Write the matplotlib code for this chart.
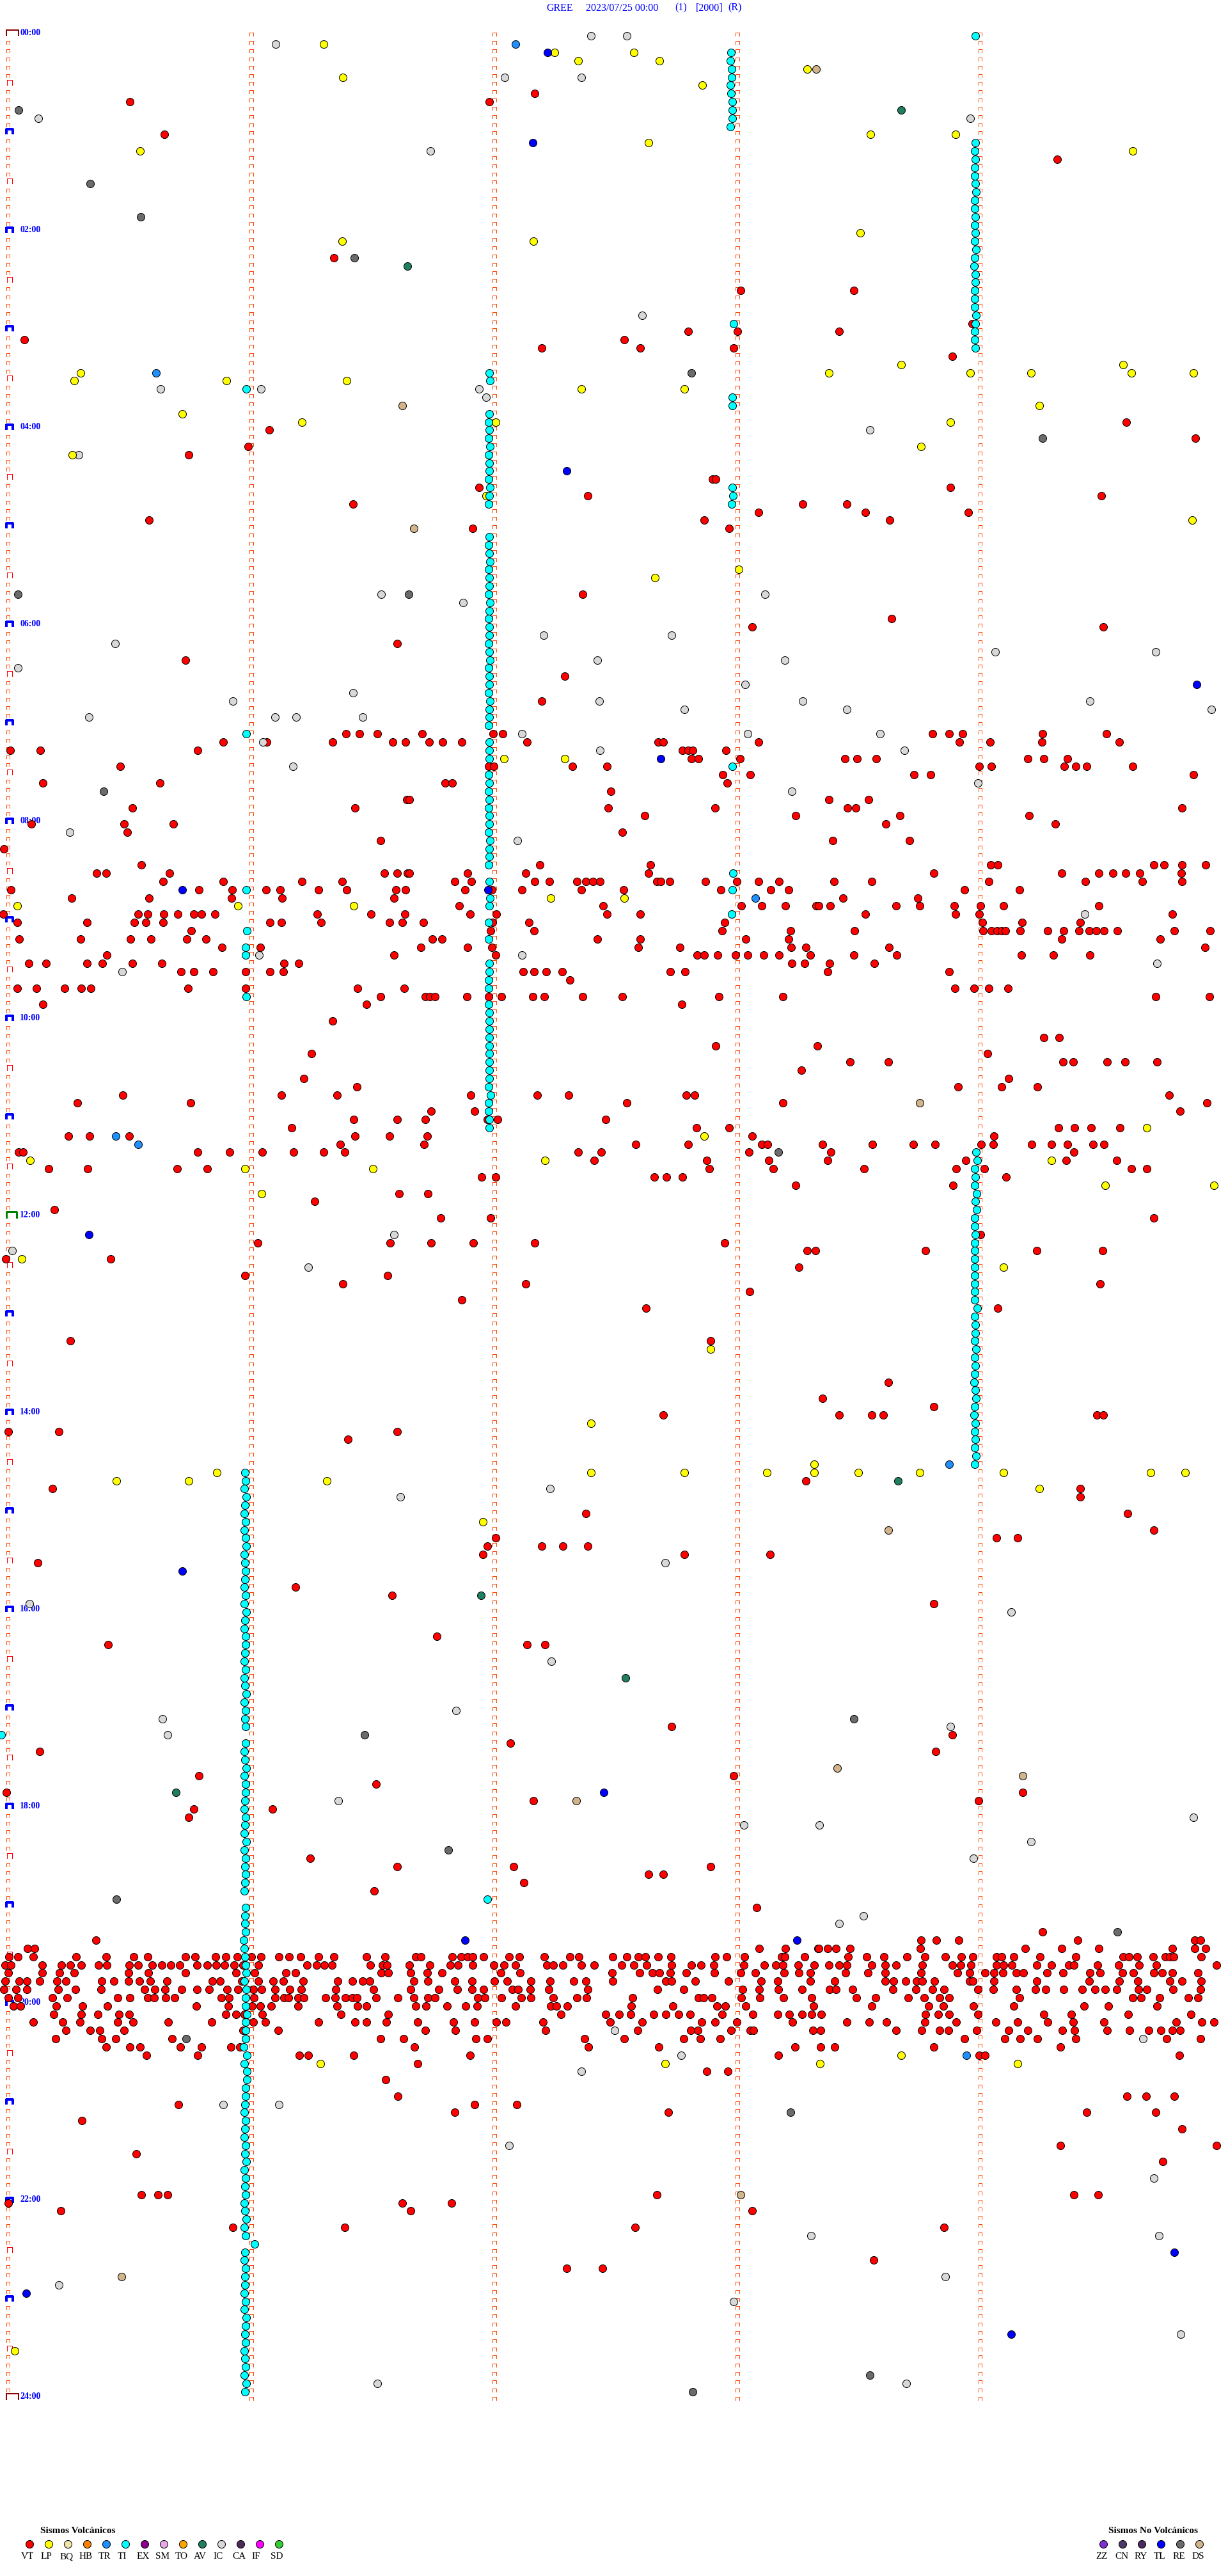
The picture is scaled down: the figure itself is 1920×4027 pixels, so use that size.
import matplotlib
matplotlib.use("Agg")
import matplotlib.pyplot as plt
from matplotlib.collections import LineCollection

plt.rcParams['font.family'] = ['Liberation Serif', 'DejaVu Serif']

# ---- data: (row of the 5-minute trace, sample offsets along the trace) ----
PANEL = 1568  # samples in a third of a 5-minute trace
TOTAL = 4704

vt_abs = [(7,[2049]),(8,[498,1875]),(12,[629]),(15,[4050]),(27,[1280]),(31,[3270,2836]),(35,[3723]),
(36,[2635,2824,3214]),(37,[2390,94]),(38,[2453,2075,2811]),(39,[3648]),(47,[4314]),(48,[1031]),(49,[4578]),
(50,[950]),(51,[723]),(54,[2729,2742]),(55,[1836,3641]),(56,[2251,4220]),(57,[1352,3075,3245]),
(58,[2905,3314,3710]),(59,[572,2698,3409]),(60,[1811,2792]),(68,[2233]),(71,[3415]),(72,[2880,4226]),
(74,[1522]),(76,[711]),(78,[2163]),(81,[2075]),
(120,[1275]),(122,[3998,4058]),(123,[2741,3131]),(124,[1194,3783]),(125,[3257,3404,4073,4112,4242,4310,4432]),
(126,[3069]),(127,[1164,3864]),(128,[1367,3670,3836,3975]),(129,[471,1078,1290,1802,2058,2178,2628,2660,4479]),
(130,[297,729,2402,2998,4623]),(131,[1652,1818,4521]),(132,[1355,1521,1629,1868,1905,2319]),
(133,[1118,2667,2793,4055,4116,4179,4289]),(134,[261,344,495,1360,1493,1637,2882,3807]),
(135,[1304,1625,2436,2636,2918,2940,3150,3342,3498,3581,3759,3804,3951,4028,4088,4187,4229]),
(136,[72,87,758,879,1004,1125,1239,1320,2216,2304,2870,3183,4113]),
(137,[2276,2708,2945,3171,3699,4083,4278]),(138,[185,336,678,794,2718,2963,3310,3662,3771,4334,4392]),
(139,[1845,1899,2507,2552,2613,3855]),(140,[3048,3651]),(141,[1529,1640]),(142,[1205]),(143,[209]),
(144,[1688,1878,4420]),(146,[3756]),(147,[987,1494,1652,1814,2049,2777]),(148,[3093,3123,3546,3971,4223]),
(149,[23,423]),(150,[3059]),(151,[939,1485]),(152,[1314,2015,4215]),(153,[2871]),(154,[1769]),(155,[2475,3821]),
(159,[270,2723]),(164,[3402]),(166,[3151]),(167,[3578]),(168,[3214,3339,3383,2541,4201,4226]),
(170,[31,226,1522]),(171,[1333]),(176,[3088]),(177,[201,4138]),(178,[4138]),(180,[2245,4320]),(182,[4421]),
(183,[1899,3899,3817]),(184,[1868,2075,2157,2251]),(185,[1849,2950,2622]),(186,[145]),(189,[1132]),(190,[1503]),
(191,[3578]),(195,[1673]),(196,[2019,2088,415]),(206,[2572]),(207,[3648]),(208,[1956]),(209,[151,3585]),
(212,[2811,761]),(213,[1440]),(214,[25,3918]),(215,[2044,3748]),(216,[742,1044]),(217,[723]),(222,[1189]),
(223,[1522,1968,2723]),(224,[2541,2484]),(225,[2006]),(226,[1434]),(228,[2899]),
(252,[1817,1979]),(253,[1743,2561,4162,4428]),(254,[314]),(255,[4528]),(257,[4063,4660]),(258,[522]),(259,[4453]),
(263,[541,604,641,2516,4113,4207]),(264,[1541,1730,31]),(265,[233,1572,2880]),(267,[893,1321,2434,3616]),
(271,[3346]),(272,[2170,2308])]

# morning swarm, three panels of the trace
vt_morning_a = [(85,[1325,1378,1446]),(86,[854,1022,1273,1505,1553]),(87,[40,154,757]),(89,[460]),(91,[165,612]),
(93,[1558]),(94,[506,1359]),(96,[119,476,664]),(97,[487]),(98,[1457]),(99,[14]),(101,[542]),
(102,[370,407,649,1473,1522,1560]),(103,[624,856,1157,1311]),(104,[41,763,890,1018,1074,1220,1327,1516,1553]),
(105,[275,570,888,1081,1510]),(107,[12,529,566,627,682,743,772,824,1216,1422,1552]),
(108,[67,332,515,559,625,1034,1077,1231,1493,1540]),(109,[733]),(110,[74,309,501,577,715,790]),(111,[849,998]),
(112,[410,1510]),(113,[111,176,334,393,506,619,1088,1144]),(114,[694,742,817,940,1035,1086]),
(116,[67,139,248,312,349,721,941,1369,1549]),(117,[1458]),(118,[164,1403])]
vt_morning_b = [(85,[50,320,357]),(86,[76,127,202,450,953,973,1337]),(87,[1045,1068,1085,1213]),(88,[1080,1108,1266]),
(89,[304,324,624,756]),(90,[1201,1305]),(91,[138,164,1217]),(92,[771]),(93,[0]),(94,[762,1172]),(95,[901,1481]),
(97,[815]),(101,[500,923]),(102,[0,223,446,916]),(103,[173,238,481,536,643,677,704,730,947,964,998,1135,1254,1338,1415]),
(104,[212,315,431,660,820,1193,1385,1452]),(106,[192,742,1271,1350,1441,1558]),(107,[232,333,758,885]),
(108,[53,318,459,1209]),(109,[312,478,1199,1459]),(110,[89,124,721,885,1288,1453]),(111,[45,223,315,876,1036,1462,1519]),
(112,[330,1103,1130,1180,1250,1296,1358,1416,1537]),(113,[1465,1513]),(114,[436,478,524,585,999,1056]),(115,[616]),
(117,[62,78,98,220,303,354,474,517,663,817,1187,1432]),(118,[1044])]
vt_morning_c = [(85,[436,500,552,857,1103]),(86,[538,657,854,1151]),(88,[100,148,220,800,862,954]),(89,[614,661,941,986,1027,1203]),
(90,[365,428,1436]),(93,[40,190]),(94,[110,142,1392]),(95,[311,806]),(96,[257,907]),(98,[53,349]),
(101,[658,687,1284,1323,1392,1483]),(102,[441,932,1072,1128,1177,1229,1389]),(103,[60,204,652,1022,1239,1391]),(104,[558,770]),
(105,[93,380]),(106,[0,44,297,387,520,620,708,1074]),(107,[178,525,614,1354]),(108,[628,779,1003]),
(109,[137,629,661,684,700,716,771,878,938,998,1036,1063,1093,1143,1363,1499]),(110,[931,1308]),(111,[270,1480]),
(112,[135,300,777,900,1038]),(113,[42,212]),(114,[35,500]),(116,[521,595,652,724]),(117,[1290,1497])]

# evening swarm, three panels of the trace
vt_evening_a = [(232,[368]),(233,[105,133]),
(234,[34,69,127,291,407,513,565,710,748,826,865,908,964,1000,1068,1108,1152,1220,1280,1405,1475]),
(235,[20,42,162,236,270,312,378,410,496,530,582,621,655,688,755,793,829,859,896,930,991,1176,1213,1241,1272,1419,1465,1483]),
(236,[32,162,227,283,492,568,711,905,975,1096,1132,1460,1488]),
(237,[20,73,104,152,217,253,390,436,492,535,576,640,813,844,925,991,1047,1085,1162,1294,1351,1388,1415]),
(238,[15,62,104,223,288,387,554,594,632,695,754,800,870,912,970,1003,1053,1110,1155,1287,1431]),
(239,[31,68,202,257,451,497,566,590,635,670,847,878,973,1053,1088,1106,1142,1163,1246,1285,1322,1350,1366,1440,1524]),
(240,[52,78,215,315,412,751,875,965,996,1040,1141,1292,1370,1404]),
(241,[206,312,376,455,495,864,903,935,1005,1307,1487]),
(242,[128,239,306,451,509,644,812,971,1017,1219,1360,1405,1480]),
(243,[252,346,381,475,930,1066]),(244,[212,390,444,658,1457,1546]),(245,[407,498,536,690,771,885,918]),
(246,[560,758,1146,1180,1355]),(249,[1478]),(251,[1524]),(252,[683])]
vt_evening_b = [(233,[1341,1441,1565]),
(234,[25,43,163,198,222,243,284,382,421,516,615,650,779,834,877,903,953,1001,1172,1216,1285,1425,1438,1514]),
(235,[0,78,156,186,243,324,363,407,527,551,589,660,708,813,859,910,1005,1081,1118,1167,1282,1360,1403,1431,1490,1550]),
(236,[5,69,124,350,425,777,882,932,958,999,1061,1169,1270,1325,1435,1492,1535]),
(237,[17,71,175,239,326,374,466,540,630,675,780,983,1004,1094,1222,1348,1412,1537]),
(238,[5,112,184,240,285,394,417,462,535,683,951,1051,1277,1340,1414,1504]),
(239,[16,70,99,262,290,354,429,466,551,641,679,855,1108,1128,1160,1271,1343,1433,1541]),
(240,[24,64,145,216,260,407,541,563,604,850,1010,1179,1211,1288,1549]),
(241,[581,753,804,847,937,982,1031,1076,1199,1315,1411,1456,1504,1541]),
(242,[31,169,249,332,371,511,770,893,1120,1172,1255,1467]),
(243,[62,177,522,875,1078,1106,1233,1305,1317,1546]),
(244,[255,300,672,822,1052,1115,1191]),(245,[20,686,955,1477]),(246,[232,1413]),(247,[33]),(248,[1140,1220])]
vt_evening_c = [(231,[857]),(232,[393,451,536,992,1441,1462]),(233,[0,35,65,120,390,792,932,1073,1354,1440,1482]),
(234,[112,184,251,338,407,484,547,590,680,700,748,848,985,1165,1189,1219,1282,1327,1346,1359,1465]),
(235,[38,79,107,204,255,296,397,513,545,582,680,707,741,836,893,958,978,1067,1148,1227,1293,1523]),
(236,[102,189,255,392,531,577,638,671,706,757,783,874,936,1038,1077,1163,1206,1285,1316,1355,1453]),
(237,[62,255,287,334,374,398,443,578,590,672,836,1036,1152,1223,1346,1391,1464]),
(238,[42,67,131,285,373,437,480,609,669,757,831,870,938,1009,1058,1098,1141,1226,1258,1358,1462]),
(239,[145,219,344,405,463,500,770,1204,1236,1307,1417,1454]),
(240,[204,422,477,594,747,1016,1109,1295]),(241,[10,408,457,499,611,863,967,1185,1425]),
(242,[109,193,260,406,527,679,762,878,976,1092,1370,1468,1513]),
(243,[8,297,394,464,498,604,728,800,934,980,1104,1191,1264,1310,1354,1384]),
(244,[559,712,772,837,985,1334,1462]),(245,[8,61,441,926]),(246,[615,638,1383]),(251,[1180,1255,1362])]

ic_rows = [(0,[2263,2402]),(1,[1056]),(5,[1934,2226]),(10,[146,3717]),(14,[1648]),(34,[2459]),(43,[616,1000,1836]),(44,[1862]),
(48,[3333]),(51,[302]),(68,[1459,2931]),(69,[1773]),(73,[2082,2572]),(74,[440]),(75,[3811,4427]),(76,[2289,3006]),(77,[69]),
(79,[2855]),(80,[1352]),(81,[893,3075,4176,2296]),(82,[4641,2622,3245]),(83,[340,1053,1135,1390]),(85,[1999,2865,3370]),
(86,[1008]),(87,[2298,3464]),(89,[1121]),(91,[3747]),(92,[3033]),(97,[267]),(98,[1982]),(107,[4156]),(112,[992,2000]),
(113,[4432]),(114,[469]),(146,[1508]),(148,[47]),(150,[1181]),(177,[2107]),(178,[1534]),(186,[2547]),(191,[113]),(192,[3874]),
(198,[2113]),(204,[1748]),(205,[623]),(206,[3641]),(207,[641]),(215,[1296]),(217,[4572]),(218,[2849,3138]),(220,[3949]),
(222,[3729]),(229,[3308]),(230,[3214]),(243,[2355]),(244,[4377]),(246,[2610]),(248,[2227]),(252,[855,1069]),(257,[1950]),
(261,[4421]),(268,[3107,4440]),(273,[3622]),(274,[226]),(276,[2811]),(280,[4522]),(286,[3472,1446])]

lp_rows = [(1,[1240]),(2,[2123,2427]),(3,[2214,2527]),(4,[3091]),(5,[1313]),(6,[2689]),(12,[3335,3660]),(13,[2485]),(14,[537,4339]),
(24,[3295]),(25,[1310,2044]),(40,[3453,4302]),(41,[308,3176,3717,3949,4333,4572]),(42,[283,868,1327]),(43,[2226,2622]),(45,[3981]),
(46,[698]),(47,[1157,1899,3641]),(50,[3528]),(51,[277]),(56,[1862]),(59,[4566]),(65,[2830]),(66,[2509]),(88,[1930,2163]),
(105,[2110,2390]),(106,[67,912,1356]),(133,[4392]),(134,[2697]),(137,[114,2088,4028]),(138,[939,1428]),(140,[4233,4649]),(141,[1002]),
(149,[83]),(150,[3843]),(160,[2723]),(169,[2264]),(174,[3119]),(175,[830,2264,2622,2937,3119,3289,3522,3843,4408,4541]),
(176,[447,723,1251]),(177,[3981]),(181,[1849]),(246,[3452]),(247,[1228,2549,3141,3897]),(282,[57])]

tr_rows = [(1,[1975]),(41,[597]),(105,[2893]),(134,[443]),(135,[530]),(174,[3635]),(246,[3703])]
tl_rows = [(2,[2097]),(13,[2041]),(53,[2170]),(79,[4585]),(88,[2531]),(104,[699,1869]),(146,[341]),(187,[698]),(214,[2314]),
(232,[1782,3052]),(270,[4497]),(275,[101]),(280,[3874])]
re_rows = [(9,[72]),(18,[345]),(22,[539]),(27,[1358]),(41,[2648]),(49,[3993]),(68,[69,1566]),(92,[398]),(136,[2982]),(205,[3270]),
(207,[1396]),(221,[1717]),(227,[447]),(231,[4279]),(244,[714]),(253,[3029]),(285,[3333]),(287,[2654])]
av_rows = [(9,[3453]),(28,[1560]),(176,[3440]),(190,[1843]),(200,[2396]),(214,[673])]
ds_rows = [(4,[3125]),(45,[1541]),(60,[1585]),(130,[3524]),(182,[3402]),(211,[3207]),(212,[3918]),(215,[2207]),(263,[2836]),(273,[465])]

ti_single = [(0,[3736]),(35,[2811]),(43,[943]),(44,[2805]),(45,[2805]),(55,[2805]),(56,[2808]),(57,[2803]),(85,[943]),(89,[2806]),
(102,[2808]),(104,[944,2805]),(107,[2802]),(109,[945]),(111,[942]),(112,[940]),(117,[943]),(207,[6]),(227,[1868])]
ti_a_rows = [2,3,4,5,6,7,8,9,10,11]
ti_a_off = [2801,2799,2804,2802,2797,2801,2806,2805,2806,2798]
ti_b_rows = list(range(13,39))
ti_b_off = [3736,3734,3737,3735,3733,3736,3738,3734,3735,3737,3733,3736,3734,3738,3735,3732,3736,3737,3734,3735,3733,3738,3736,3734,3735,3737]
ti_c_rows = [41,42,46,47,48,49,50,51,52,53,54,55,56,57,61,62,63,64,65,66,67,68,69,70,71,72,73,74,75,76,77,78,79,80,81,82,
83,84,86,87,88,90,91,92,93,94,95,96,97,98,99,100,101,103,105,106,108,110,113,114,115,116,118,
119,120,121,122,123,124,125,126,127,128,129,130,131,132,133]
ti_c_off = [1874,1876,1874,1871,1875,1873,1876,1872,1874,1875,1873,1876,1874,1872,1875,1873,1874,1876,1872,1875,1874,1873,1876,1874,1872,1875,1874,1873,1875,1876,1872,1874,1875,1873,1876,1874,
1875,1873,1875,1874,1875,1871,1875,1873,1874,1872,1874,1875,1873,1877,1875,1875,1873,1874,1876,1875,1872,1871,1875,1875,1873,1873,1872,
1874,1875,1875,1875,1875,1875,1875,1875,1875,1872,1878,1871,1871,1874,1875]
ti_d_rows = list(range(136,175))
ti_d_off = [3738,3744,3735,3737,3734,3740,3737,3740,3735,3734,3737,3734,3735,3734,3734,3735,3734,3735,3735,3743,3734,3737,
3736,3733,3738,3734,3737,3735,3732,3736,3739,3734,3731,3737,3733,3736,3734,3738,3735]
ti_e_rows = list(range(175,207)) + list(range(208,227)) + list(range(228,288))
ti_e_off = [938,941,936,943,939,935,942,937,940,944,936,939,942,938,935,941,937,943,939,936,940,942,938,935,941,937,939,943,936,940,938,942,
941,937,939,944,936,940,942,938,935,941,939,937,943,936,940,938,942,939,936,
941,938,938,940,934,935,938,941,944,936,944,941,941,945,941,941,940,934,945,937,946,946,942,941,939,
937,942,938,935,941,939,944,936,940,938,942,937,939,943,936,940,975,938,935,942,939,939,937,941,936,943,940,938,942,935,939,941,937,943,938,940,936]

cat_volc = ["VT","LP","BQ","HB","TR","TI","EX","SM","TO","AV","IC","CA","IF","SD"]
col_volc = ["#FF0000","#FFFF00","#F0E4A8","#FF8000","#1E90FF","#00FFFF","#8B008B","#E8A8E8","#FFA500","#1F7F60","#D8D8D8","#4B2B5B","#FF00FF","#32CD32"]
cat_novolc = ["ZZ","CN","RY","TL","RE","DS"]
col_novolc = ["#8030D0","#4B3B6B","#4B2B5B","#0000FF","#6B6B6B","#D2B48C"]

n_rows = 288
hour_labels = ["%02d:00" % h for h in range(0, 25, 2)]
minute_columns = [31, 963, 1894, 2825, 3755]
title_parts = ["GREE", "2023/07/25 00:00", "(1)", "[2000]", "(R)"]
title_left = [854, 916, 1055, 1088, 1138]

# ---- figure ----
W, H = 1920, 4027
PX_PER_ROW = 12.83
ROW0_PX = 56.5
SAMPLES_PER_PX = TOTAL / W

fig = plt.figure(figsize=(W / 100, H / 100), dpi=100, facecolor="white")
ax = fig.add_axes([0, 0, 1, 1])
ax.set_xlim(0, TOTAL)
ax.set_ylim((H - ROW0_PX) / PX_PER_ROW, -ROW0_PX / PX_PER_ROW)
ax.axis("off")

def lx(px):
    return px * SAMPLES_PER_PX

def ly(py):
    return (py - ROW0_PX) / PX_PER_ROW

def flat(rows, shift=0):
    xs, ys = [], []
    for r, vals in rows:
        for v in vals:
            xs.append(v + shift)
            ys.append(r)
    return xs, ys

def dots(x, y, color, z):
    ax.scatter(x, y, s=75, c=color, edgecolors="black", linewidths=0.72, zorder=z, antialiased=False, clip_on=False)

# time ticks
def tick(cx_left, cx_right, r, hpx):
    top = r - hpx / PX_PER_ROW
    return [(cx_left, r), (cx_left, top), (cx_right, top), (cx_right, r)]

small = []
for r in range(n_rows + 1):
    for i, c in enumerate(minute_columns):
        if i == 0 and r % 6 == 0:
            continue
        small.append(tick(c - 6.5, c + 6.5, r, 5.0))
ax.add_collection(LineCollection(small, colors="#FF4500", linewidths=0.5, antialiased=False, zorder=1))
red_b, blue_b, green_b, dark_b = [], [], [], []
for r in range(0, n_rows + 1, 6):
    if r in (0, n_rows):
        dark_b.append(tick(24, 72, r, 9.5))
    elif r == 144:
        green_b.append(tick(24, 63, r, 10))
    elif r % 12 == 0:
        blue_b.append(tick(24, 50, r, 8))
    else:
        red_b.append(tick(26, 47, r, 8))
ax.add_collection(LineCollection(red_b, colors="#FF0000", linewidths=0.5, antialiased=False, zorder=1))
ax.add_collection(LineCollection(blue_b, colors="#0000FF", linewidths=1.45, antialiased=False, zorder=1))
ax.add_collection(LineCollection(green_b, colors="#008000", linewidths=1.0, antialiased=False, zorder=1))
ax.add_collection(LineCollection(dark_b, colors="#8B0000", linewidths=1.2, antialiased=False, zorder=1))

for i, lab in enumerate(hour_labels):
    ax.text(77, i * 24 - 0.37, lab, color="#0000FF", fontweight="bold", fontsize=10, ha="left", va="center", zorder=2)

# events
for rows, shift in [(vt_abs, 0), (vt_morning_a, 0), (vt_morning_b, PANEL), (vt_morning_c, 2 * PANEL),
                    (vt_evening_a, 0), (vt_evening_b, PANEL), (vt_evening_c, 2 * PANEL)]:
    x, y = flat(rows, shift)
    dots(x, y, col_volc[0], 3)
for rows, c, z in [(ic_rows, col_volc[10], 4), (lp_rows, col_volc[1], 4), (tr_rows, col_volc[4], 4),
                   (av_rows, col_volc[9], 4), (re_rows, col_novolc[4], 4), (ds_rows, col_novolc[5], 4)]:
    x, y = flat(rows)
    dots(x, y, c, z)
x, y = flat(ti_single)
dots(x, y, col_volc[5], 5)
for rr, oo in [(ti_a_rows, ti_a_off), (ti_b_rows, ti_b_off), (ti_c_rows, ti_c_off), (ti_d_rows, ti_d_off), (ti_e_rows, ti_e_off)]:
    n = min(len(rr), len(oo))
    dots(oo[:n], rr[:n], col_volc[5], 5)
x, y = flat(tl_rows)
dots(x, y, col_novolc[3], 6)

# title
for t, left in zip(title_parts, title_left):
    ax.text(lx(left), ly(12.7), t, color="#0000FF", fontsize=11.5, ha="left", va="center")

# legends
ax.text(lx(63.3), ly(3956.7), "Sismos Volcánicos", fontweight="bold", fontsize=11, ha="left", va="center", color="black")
ax.text(lx(1733.3), ly(3956.7), "Sismos No Volcánicos", fontweight="bold", fontsize=11, ha="left", va="center", color="black")
for k, (n, c) in enumerate(zip(cat_volc, col_volc)):
    dots([lx(45.7 + 30 * k)], [ly(3977.3)], c, 3)
    ax.text(lx(33.3 + 30 * k), ly(3996.7), n, fontsize=11, ha="left", va="center", color="black")
for k, (n, c) in enumerate(zip(cat_novolc, col_novolc)):
    dots([lx(1725.3 + 30 * k)], [ly(3977.3)], c, 3)
    ax.text(lx(1713.3 + 30 * k), ly(3996.7), n, fontsize=11, ha="left", va="center", color="black")

fig.savefig("out.png", dpi=100, facecolor="white")
